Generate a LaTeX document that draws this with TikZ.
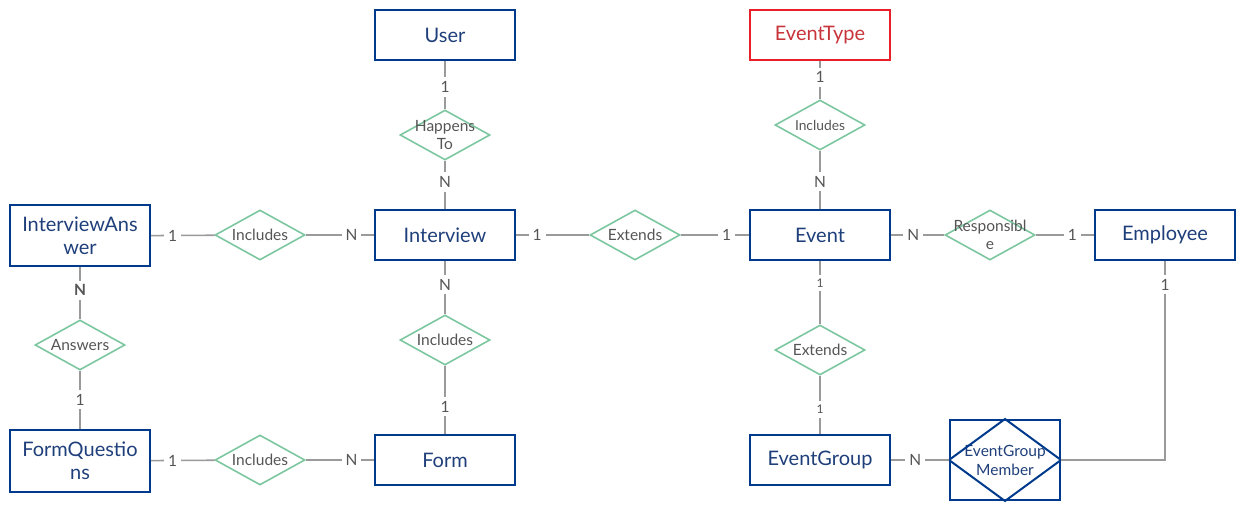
\documentclass[tikz,border=0pt]{standalone}
\usepackage{fontspec}
\setmainfont{Lato}
\usetikzlibrary{shapes.geometric}
\definecolor{entblue}{HTML}{003A8C}
\definecolor{enttext}{HTML}{1F3F7A}
\definecolor{entred}{HTML}{E8202A}
\definecolor{redtext}{HTML}{C7343A}
\definecolor{relgreen}{HTML}{7CC7A0}
\definecolor{linegray}{HTML}{9A9A9A}
\definecolor{lbltext}{HTML}{555555}
\tikzset{
 entity/.style={draw=entblue, line width=2pt, minimum width=140pt, minimum height=50pt, inner sep=0pt, text=enttext, font=\fontsize{20}{23}\selectfont, align=center},
 rtext/.style={text=lbltext, font=\fontsize{15.5}{18}\selectfont, align=center, inner sep=0pt},
 rel/.style={draw=relgreen, line width=1.6pt, shape=diamond, minimum width=90pt, minimum height=50pt, inner sep=0pt, label={[rtext]center:#1}},
 conn/.style={draw=linegray, line width=1.6pt},
 card/.style={fill=white, text=lbltext, font=\fontsize{15.5}{16}\selectfont, inner sep=4pt},
 smallcard/.style={card, font=\fontsize{12}{13}\selectfont},
}
\begin{document}
\begin{tikzpicture}[x=1pt,y=-1pt]
\useasboundingbox (0,0) rectangle (1245,510);
% entities
\node[entity] (user) at (445,35) {User};
\node[entity, draw=entred, text=redtext] (etype) at (820,35) {EventType};
\node[entity, minimum height=61pt] (ia) at (80,236) {InterviewAns\\wer};
\node[entity] (interview) at (445,235) {Interview};
\node[entity] (event) at (820,235) {Event};
\node[entity] (emp) at (1165,235) {Employee};
\node[entity, minimum height=62pt] (fq) at (80,461) {FormQuestio\\ns};
\node[entity] (form) at (445,460) {Form};
\node[entity] (eg) at (820,460) {EventGroup};
\node[entity, minimum width=110pt, minimum height=80pt, font=\fontsize{15.5}{19}\selectfont] (egm) at (1005,460) {EventGroup\\Member};
\draw[draw=entblue, line width=2pt, line join=miter] (egm.west) -- (egm.north) -- (egm.east) -- (egm.south) -- cycle;
% relationships
\node[rel={Happens\\To}] (ht) at (445,135) {};
\node[rel={}, label={[rtext, font=\fontsize{13.8}{15}\selectfont]center:Includes}] (inc2) at (820,125) {};
\node[rel=Includes] (inc1) at (260,235) {};
\node[rel=Extends] (ext1) at (635,235) {};
\node[rel={Responsibl\\e}] (resp) at (990,235) {};
\node[rel=Answers] (ans) at (80,345) {};
\node[rel=Includes] (inc3) at (445,340) {};
\node[rel=Extends] (ext2) at (820,350) {};
\node[rel=Includes] (inc4) at (260,460) {};
% connectors
\draw[conn] (user) -- node[card, pos=0.54] {1} (ht);
\draw[conn] (ht) -- node[card, pos=0.44] {N} (interview);
\draw[conn] (etype) -- node[card, pos=0.43] {1} (inc2);
\draw[conn] (inc2) -- node[card, pos=0.53] {N} (event);
\draw[conn] (ia) -- node[card, pos=0.34] {1} (inc1);
\draw[conn] (inc1) -- node[card, pos=0.67] {N} (interview);
\draw[conn] (interview) -- node[card, pos=0.29] {1} (ext1);
\draw[conn] (ext1) -- node[card, pos=0.67] {1} (event);
\draw[conn] (event) -- node[card, pos=0.42] {N} (resp);
\draw[conn] (resp) -- node[card, pos=0.63] {1} (emp);
\draw[conn] (event) -- node[smallcard, pos=0.35] {1} (ext2);
\draw[conn] (ext2) -- node[smallcard, pos=0.58] {1} (eg);
\draw[conn] (interview) -- node[card, pos=0.45] {N} (inc3);
\draw[conn] (inc3) -- node[card, pos=0.6] {1} (form);
\draw[conn] (ia) -- node[card, pos=0.44, font=\bfseries\fontsize{15.5}{16}\selectfont] {N} (ans);
\draw[conn] (ans) -- node[card, pos=0.5] {1} (fq);
\draw[conn] (fq) -- node[card, pos=0.34] {1} (inc4);
\draw[conn] (inc4) -- node[card, pos=0.67] {N} (form);
\draw[conn] (eg) -- node[card, pos=0.42] {N} (egm);
\draw[conn] (egm.east) -| node[card, pos=0.94] {1} (emp.south);
\end{tikzpicture}
\end{document}
